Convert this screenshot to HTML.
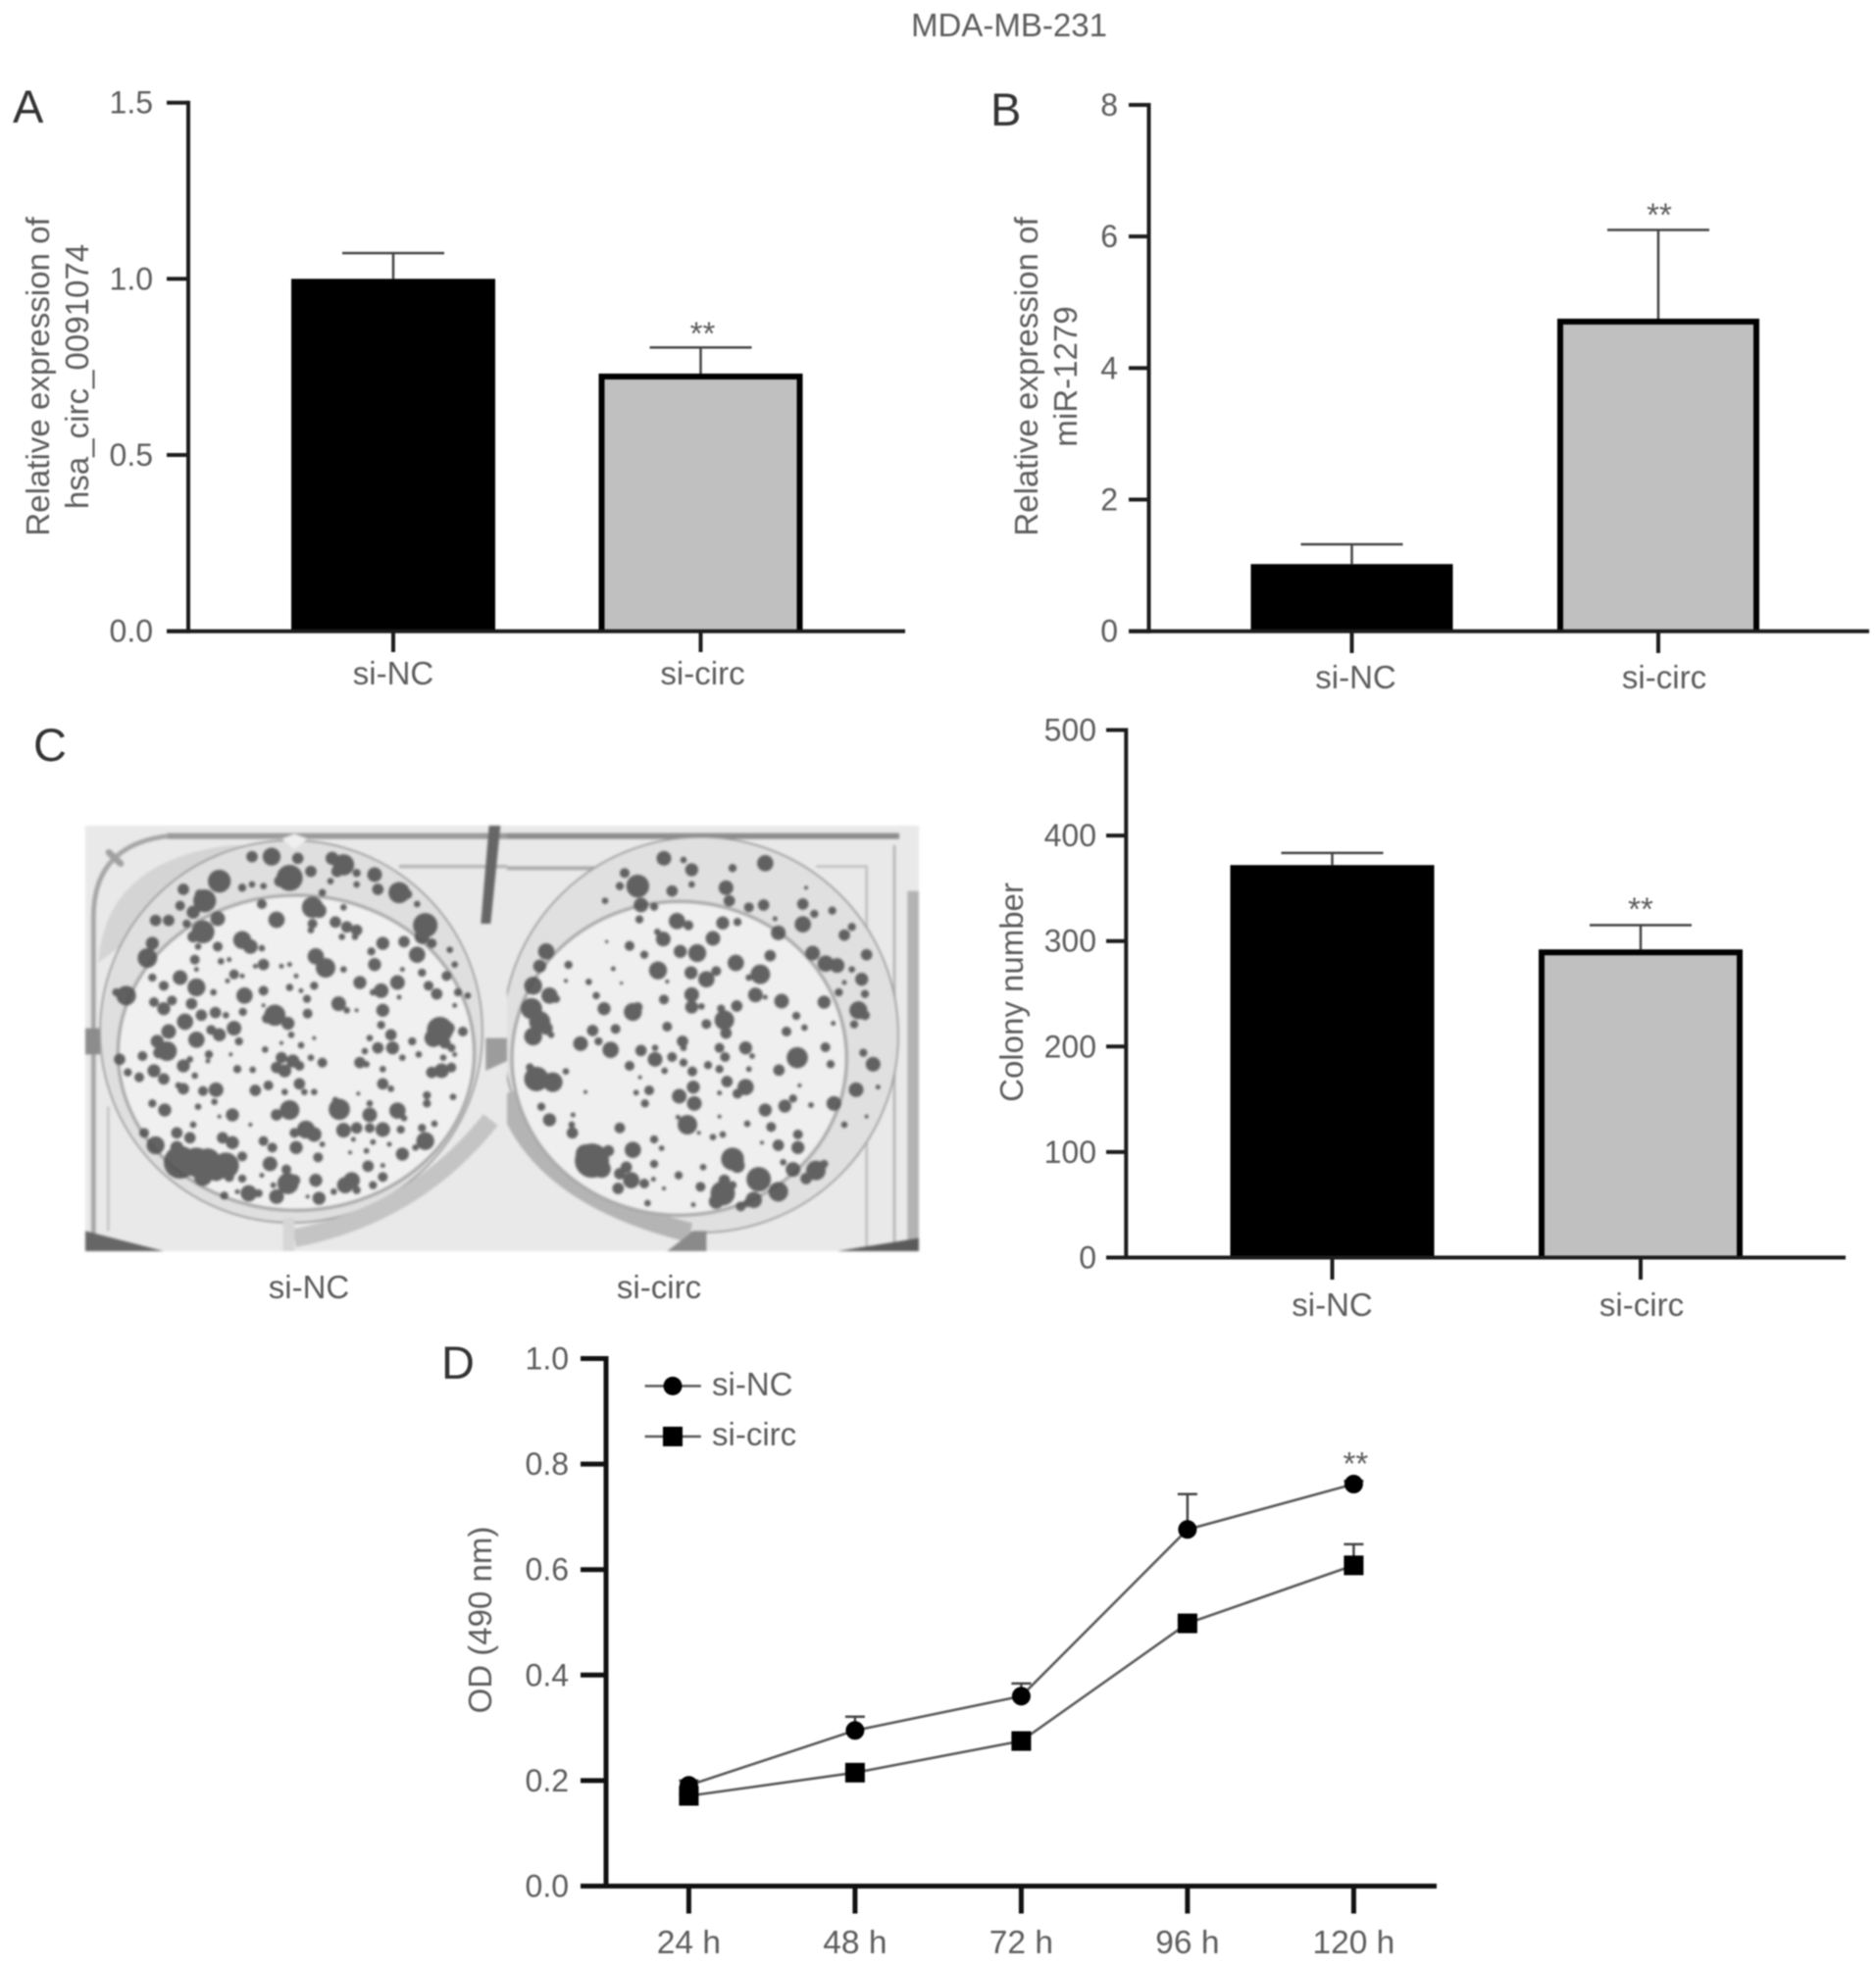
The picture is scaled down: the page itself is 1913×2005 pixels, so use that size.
<!DOCTYPE html>
<html lang="en">
<head>
<meta charset="utf-8">
<title>MDA-MB-231</title>
<style>
html,body{margin:0;padding:0;background:#fff;}
#figure{display:block;width:1913px;height:2005px;filter:blur(0.7px);}
text{font-family:"Liberation Sans",sans-serif;fill:#5c5c5c;}
.panel-letter{font-size:47px;fill:#333;}
</style>
</head>
<body>
<svg id="figure" xmlns="http://www.w3.org/2000/svg" width="1913" height="2005" viewBox="0 0 1913 2005">
  <defs>
    <clipPath id="plate-left-clip"><rect x="0" y="0" width="1290" height="1302"/></clipPath>
    <clipPath id="plate-right-clip"><rect x="30" y="0" width="1260" height="1302"/></clipPath>
  </defs>
  <rect width="1913" height="2005" fill="#fff"/>
  <text x="1029" y="37" font-size="33" text-anchor="middle">MDA-MB-231</text>
  <text class="panel-letter" x="13" y="125">A</text>
  <text class="panel-letter" x="1010" y="128">B</text>
  <text class="panel-letter" x="34" y="776">C</text>
  <text class="panel-letter" x="450" y="1406">D</text>

  <g id="panel-a"></g>
  <g id="panel-b"></g>
  <g id="panel-c"></g>
  <g id="panel-d"></g>

  <text transform="translate(50,384) rotate(-90)" font-size="33.1" text-anchor="middle">Relative expression of</text>
  <text transform="translate(90,384) rotate(-90)" font-size="33.1" text-anchor="middle">hsa_circ_0091074</text>
  <text transform="translate(1058,384) rotate(-90)" font-size="33.1" text-anchor="middle">Relative expression of</text>
  <text transform="translate(1098,384) rotate(-90)" font-size="33.1" text-anchor="middle">miR-1279</text>
  <text transform="translate(1043,1012) rotate(-90)" font-size="33" text-anchor="middle">Colony number</text>
  <text transform="translate(501,1652) rotate(-90)" font-size="33" text-anchor="middle">OD (490 nm)</text>

  <g style="filter:blur(1px)">
    <rect x="87" y="842" width="850" height="434" fill="#e9e9e9"/>

    <g transform="translate(507,842) scale(0.33333)" clip-path="url(#plate-right-clip)">
      <line x1="0" y1="32" x2="1230" y2="32" stroke="#8c8c8c" stroke-width="18"/>
      <line x1="0" y1="130" x2="330" y2="130" stroke="#ababab" stroke-width="12"/>
      <path d="M975 125H1130V1302" fill="none" stroke="#c0c0c0" stroke-width="8"/>
      <line x1="1215" y1="60" x2="1215" y2="1302" stroke="#b4b4b4" stroke-width="8"/>
      <rect x="1255" y="200" width="35" height="1102" fill="#b3b3b3"/>
      <polygon points="1040,1302 1290,1262 1290,1302" fill="#5a5a5a"/>
      <circle cx="622" cy="640" r="605" fill="#e0e0e0" stroke="#999" stroke-width="5"/>
      <path d="M25 820Q120 1130 590 1245" fill="none" stroke="#b4b4b4" stroke-width="60"/>
      <ellipse cx="557" cy="712" rx="512" ry="480" fill="#efefef" stroke="#aaa" stroke-width="10"/>
      <polygon points="520,1302 600,1240 640,1240 640,1302" fill="#8a8a8a"/>
      <path id="colony-dots-right" fill="#4e4e4e" fill-opacity="0.88"/>
    </g>

    <g transform="translate(87,842) scale(0.33333)" clip-path="url(#plate-left-clip)">
      <line x1="250" y1="32" x2="1290" y2="32" stroke="#9a9a9a" stroke-width="18"/>
      <line x1="960" y1="125" x2="1290" y2="125" stroke="#b5b5b5" stroke-width="10"/>
      <path d="M25 1302V280Q25 60 250 32" fill="none" stroke="#a5a5a5" stroke-width="14"/>
      <path d="M40 420Q60 110 440 60L600 60L200 300Z" fill="#d4d4d4"/>
      <line x1="70" y1="860" x2="70" y2="1240" stroke="#c4c4c4" stroke-width="8"/>
      <line x1="72" y1="82" x2="108" y2="116" stroke="#a0a0a0" stroke-width="20" stroke-linecap="round"/>
      <polygon points="1235,0 1270,0 1240,300 1210,300" fill="#666"/>
      <polygon points="0,1240 240,1302 0,1302" fill="#666"/>
      <rect x="0" y="620" width="45" height="80" fill="#8c8c8c"/>
      <polygon points="1225,650 1290,650 1290,720 1225,750" fill="#9c9c9c"/>
      <circle cx="630" cy="630" r="585" fill="#dfdfdf" stroke="#999" stroke-width="5"/>
      <path d="M1240 900Q1010 1190 640 1262" fill="none" stroke="#c4c4c4" stroke-width="56"/>
      <ellipse cx="645" cy="695" rx="545" ry="482" fill="#f0f0f0" stroke="#aaa" stroke-width="10"/>
      <rect x="605" y="1200" width="35" height="102" fill="#d6d6d6"/>
      <polygon points="600,40 640,25 680,40 640,72" fill="#efefef"/>
      <path id="colony-dots-left" fill="#4e4e4e" fill-opacity="0.88"/>
    </g>
  </g>
  <text x="315" y="1324" font-size="33" text-anchor="middle">si-NC</text>
  <text x="672" y="1324" font-size="33" text-anchor="middle">si-circ</text>
</svg>

<script>
// ---- Panel A data ----
const aCategories = ['si-NC', 'si-circ'];
const aValues = [1.0, 0.731];
const aErrorTops = [1.073, 0.805];
const aTicks = ['0.0', '0.5', '1.0', '1.5'];
const aStars = ['', '**'];

// ---- Panel B data ----
const bCategories = ['si-NC', 'si-circ'];
const bValues = [1.02, 4.75];
const bErrorTops = [1.32, 6.1];
const bTicks = ['0', '2', '4', '6', '8'];
const bStars = ['', '**'];

// ---- Panel C data ----
const cCategories = ['si-NC', 'si-circ'];
const cValues = [372, 292];
const cErrorTops = [383.5, 315];
const cTicks = ['0', '100', '200', '300', '400', '500'];
const cStars = ['', '**'];

// ---- Panel D data ----
const dTimes = ['24 h', '48 h', '72 h', '96 h', '120 h'];
const dTicks = ['0.0', '0.2', '0.4', '0.6', '0.8', '1.0'];
const dSiNC = [0.191, 0.295, 0.36, 0.676, 0.762];
const dSiCirc = [0.171, 0.215, 0.275, 0.498, 0.608];
const dSiNCErrorTops = [0.2, 0.321, 0.384, 0.743, 0.768];
const dSiCircErrorTops = [0.175, 0.222, 0.282, 0.505, 0.648];
const dStars = ['', '', '', '', '**'];

// ---- Colony spots (photo stand-in, not chart data) ----
const leftColonies = [
[570,95,22],[625,160,32],[595,170,14],[410,170,28],[365,230,28],[350,210,12],[300,195,14],[330,265,16],[290,245,12],[215,290,14],[255,290,14],[310,300,10],[405,285,18],[360,325,28],[330,340,14],[205,360,16],[190,405,24],[510,95,14],[650,100,14],[755,100,16],[790,120,26],[770,140,14],[830,145,10],[830,180,8],[750,170,8],[690,140,14],[885,150,18],[895,195,14],[960,205,26],[985,210,12],[1040,305,30],[1030,340,18],[1060,360,12],[1015,395,20],[1115,380,8],[1030,450,10],[1050,490,12],[1075,515,14],[1105,460,12],[1140,510,10],[1130,425,8],[975,355,14],[1015,240,8],[125,520,24],[205,465,10],[95,510,10],[1170,520,8],[1130,550,6],[510,180,8],[545,185,8],[480,190,10],[725,205,9],[540,240,12],
[695,250,26],[715,260,18],[790,250,8],[585,288,20],[695,300,12],[690,320,8],[765,295,14],[800,310,14],[830,320,14],[785,340,8],[825,340,8],[405,370,12],[480,350,22],[505,370,18],[540,375,8],[345,370,8],[910,360,16],[875,385,10],[885,425,16],[705,400,20],[735,435,24],[790,440,8],[545,425,14],[520,430,6],[600,430,6],[625,425,6],[415,415,8],[440,410,6],[335,410,12],[340,440,6],[290,465,18],[455,455,12],[480,460,6],[435,475,6],[240,490,12],[340,495,22],[645,460,6],[700,490,10],[625,495,9],[660,505,6],[840,480,16],[955,480,18],[970,440,6],[905,505,18],[880,510,8],[960,525,6],[545,505,12],[487,520,20],[392,510,8],[678,530,10],[210,540,12],[265,535,12],[240,560,16],[325,545,14],[775,545,18],[800,565,8],[830,565,5],[355,580,14],[398,572,14],[430,580,8],[482,570,10],[545,550,5],[580,580,26],[555,590,12],[620,605,16],[630,640,8],[680,575,12],[910,565,16],[305,600,20],[255,630,18],[455,620,18],[385,625,12],[410,640,16],[340,655,20],[470,660,10],[220,660,16],[905,610,10],[935,640,14],[940,680,16],[870,650,8],[895,680,14],[855,690,8],[1000,660,10],[250,690,24],[225,695,14],[175,705,12],[300,735,16],[320,715,8],[378,700,10],[375,720,6],[445,700,5],[550,685,8],[600,665,5],[660,672,8],[700,650,5],[600,710,14],[635,720,16],[585,740,14],[610,750,16],[655,735,12],[725,725,12],[690,710,8],[840,725,14],[860,730,8],[910,745,8],[970,710,8],[1020,700,8],
[105,715,14],[130,755,10],[165,770,12],[210,750,16],[240,775,14],[335,765,8],[465,745,10],[512,747,8],[400,808,18],[360,812,12],[300,805,14],[285,795,8],[395,845,8],[520,810,14],[560,795,12],[610,815,8],[655,790,14],[670,815,8],[700,815,8],[910,790,14],[935,805,8],[835,820,5],[1045,825,10],[1045,850,10],[1125,830,8],
[1085,625,32],[1065,650,22],[1110,620,16],[1100,665,14],[1155,630,12],[1120,680,10],[1090,750,18],[1060,755,14],[1120,740,12],[1095,710,8],[1130,700,6],
[205,850,10],[243,870,16],[345,860,8],[450,885,16],[410,890,5],[625,870,24],[585,885,14],[777,868,26],[765,840,8],[870,885,18],[870,850,8],[955,872,20],[975,895,8],[330,915,8],[505,915,5],[675,930,22],[700,945,18],[640,940,12],[790,932,18],[830,925,14],[870,925,12],[910,930,18],[965,930,10],[1030,925,10],[1068,912,8],[180,940,12],[215,978,22],[280,940,14],[320,955,14],[420,955,14],[450,970,16],[545,965,12],[572,985,12],[645,985,16],[725,975,7],[820,960,6],[880,968,7],[930,975,6],[1040,965,22],[1010,985,8],[970,1005,16],[860,995,7],[810,1000,5],[480,1012,12],[565,1035,18],[712,1015,12],[865,1042,14],[910,1040,6],[280,985,16],[290,1030,40],[340,1030,36],[375,1025,30],[430,1040,32],[400,1060,22],[360,1075,22],[270,1035,20],[440,1075,12],[480,1080,10],[540,1070,6],[615,1052,12],[705,1085,16],[620,1095,26],[640,1085,14],[795,1100,20],[815,1085,20],[830,1115,10],[910,1075,12],[880,1100,10],[575,1100,7],[500,1125,20],[530,1125,10],[425,1132,10],[585,1135,18],[715,1140,16],[680,1135,5],[465,1120,6],[760,1120,8]
];
const rightColonies = [
[510,100,18],[390,145,12],[430,185,28],[375,185,10],[535,200,14],[595,135,16],[570,105,8],[595,180,8],[700,190,18],[710,230,14],[720,130,10],[820,115,20],[815,243,14],[935,240,14],[970,270,10],[1025,260,10],[935,302,20],[860,328,18],[1085,310,10],[1062,335,14],[1130,395,14],[965,390,18],[1005,422,20],[1040,428,18],[1085,440,8],[1115,470,16],[1125,515,10],[1062,480,6],[1045,510,10],[1000,540,16],[1105,565,22],[1125,580,12],[1092,608,10],[1028,605,6],[1120,695,10],[1150,730,18],[1098,808,18],[1165,800,6],[1030,850,18],[1062,915,8],[1020,730,10],[1004,678,12],[330,230,8],[440,243,18],[480,248,10],[770,250,12],[850,285,6],[945,190,5],[1130,890,5],
[150,385,20],[130,430,16],[110,490,22],[160,520,20],[180,530,10],[105,560,26],[130,600,26],[150,620,16],[110,645,22],[165,640,8],[120,775,30],[170,785,24],[150,770,10],[100,740,10],[135,860,10],[160,900,16],[230,940,14],[232,885,6],[228,915,8],[210,752,8],
[435,287,10],[550,292,20],[585,305,12],[690,298,16],[735,295,10],[660,345,18],[490,325,8],[508,347,18],[335,355,4],[405,368,12],[450,395,10],[560,385,16],[612,390,22],[730,420,20],[835,398,14],[593,450,16],[492,443,22],[640,470,20],[670,445,12],[805,455,24],[770,465,8],[218,426,10],[355,438,6],[280,478,8],[210,475,5],[380,482,4],[520,477,5],[595,517,18],[510,532,12],[790,518,18],[820,525,6],[870,537,18],[303,520,9],[327,560,16],[415,570,22],[430,555,12],[595,555,16],[625,553,8],[685,560,10],[733,552,14],[695,595,24],[640,607,12],[520,615,12],[915,582,10],[940,618,8],[700,635,14],[362,622,12],[292,627,14],[885,630,12],[255,667,18],[310,660,10],[347,686,20],[440,688,14],[567,660,14],[570,680,8],[680,680,12],[760,680,16],[780,705,7],[483,715,18],[483,680,8],[535,708,12],[697,708,12],[570,725,10],[645,733,10],[680,745,10],[918,710,26],[405,735,12],[512,750,8],[597,752,12],[770,745,7],[862,748,14],[437,770,5],[703,783,14],[600,800,16],[760,800,20],[735,820,12],[465,810,12],[425,817,7],[925,795,5],[270,815,5],[557,828,18],[603,850,18],[452,850,10],[680,818,6],[905,835,10],[960,855,7],[820,870,16],[880,858,16],[375,925,13],[553,892,6],[582,915,24],[680,890,5],[765,912,8],[838,922,12],[920,945,12],[660,953,8],[690,945,8],[617,940,5],[480,960,10],[503,987,7],[415,992,20],[340,995,14],[860,978,14],[920,985,16],[810,970,5],[720,1020,28],[735,1040,18],[480,1035,10],[630,1045,8],[875,1030,8],[905,1052,18],[555,1070,10],[290,1025,42],[270,1005,24],[320,1050,22],[395,1045,14],[375,1065,14],[410,1085,20],[450,1095,12],[478,1082,6],[695,1085,14],[800,1082,30],[975,1055,24],[945,1080,14],[1000,1035,10],[860,1120,24],[622,1105,12],[690,1125,30],[670,1150,18],[720,1100,10],[785,1145,20],[745,1165,12],[765,1155,10],[370,1110,14],[460,1155,8],[510,1110,5],[600,1160,6]
];

const NS = 'http://www.w3.org/2000/svg';

function make(parent, tag, attrs, name, content) {
  const el = document.createElementNS(NS, tag);
  for (const k in attrs) el.setAttribute(k, attrs[k]);
  
  
  if (content !== undefined) el.textContent = content;
  parent.appendChild(el);
  return el;
}

function line(parent, x1, y1, x2, y2, color, width, name) {
  return make(parent, 'line', {x1: x1, y1: y1, x2: x2, y2: y2, stroke: color, 'stroke-width': width}, name);
}

function drawBarPanel(opt) {
  const g = document.getElementById(opt.id);
  const y = v => opt.y0 - (v / opt.max) * (opt.y0 - opt.yTop);
  const x = i => opt.x0 + i * opt.step;

  opt.values.forEach((v, i) => {
    const top = y(v), cx = x(i), hw = opt.halfBar;
    if (i === 0) {
      make(g, 'rect', {x: cx - hw, y: top, width: hw * 2, height: opt.y0 - top, fill: '#000'}, 'bar-' + opt.categories[i]);
    } else {
      const l = cx - hw + 3, r = cx + hw - 3, t = top + 3;
      make(g, 'path', {d: 'M' + l + ' ' + opt.y0 + 'V' + t + 'H' + r + 'V' + opt.y0, fill: '#c0c0c0', stroke: '#000', 'stroke-width': 6}, 'bar-' + opt.categories[i]);
    }
    const et = y(opt.errors[i]);
    line(g, cx, top, cx, et, '#444', 2.5, 'error-stem-' + opt.categories[i]);
    line(g, cx - 52, et, cx + 52, et, '#444', 2.5, 'error-cap-' + opt.categories[i]);
    if (opt.stars[i]) {
      make(g, 'text', {x: cx + opt.starDx, y: et + opt.starOffset, 'font-size': 33, 'text-anchor': 'middle'}, 'significance-stars', opt.stars[i]);
    }
    line(g, cx, opt.y0, cx, opt.tickBottom, '#1c1c1c', 4, 'x-tick-' + opt.categories[i]);
    make(g, 'text', {x: cx + opt.labelDx[i], y: opt.labelY, 'font-size': 33, 'text-anchor': 'middle'}, 'x-label-' + opt.categories[i], opt.categories[i]);
  });

  line(g, opt.axisX, opt.yTop - 2, opt.axisX, opt.y0 + 2, '#1c1c1c', 4, 'y-axis');
  line(g, opt.tickLeft, opt.y0, opt.axisRight, opt.y0, '#1c1c1c', 4, 'x-axis');
  opt.ticks.forEach(t => {
    const ty = y(parseFloat(t));
    line(g, opt.tickLeft, ty, opt.axisX, ty, '#1c1c1c', 4, 'y-tick-' + t);
    make(g, 'text', {x: opt.labelRight, y: ty + 11, 'font-size': 32, 'text-anchor': 'end'}, 'y-tick-label-' + t, t);
  });
}

drawBarPanel({
  id: 'panel-a', categories: aCategories, values: aValues, errors: aErrorTops, ticks: aTicks, stars: aStars,
  max: 1.5, y0: 643.7, yTop: 104.7, x0: 401, step: 313.5, halfBar: 104,
  axisX: 192, tickLeft: 170, axisRight: 923, tickBottom: 665, labelRight: 156, labelY: 698,
  labelDx: [0, 2], starOffset: -3, starDx: 2
});

drawBarPanel({
  id: 'panel-b', categories: bCategories, values: bValues, errors: bErrorTops, ticks: bTicks, stars: bStars,
  max: 8, y0: 643.7, yTop: 107, x0: 1378.5, step: 312.5, halfBar: 103,
  axisX: 1171.5, tickLeft: 1151, axisRight: 1906, tickBottom: 666, labelRight: 1140, labelY: 702,
  labelDx: [4, 6], starOffset: -4, starDx: 1
});

drawBarPanel({
  id: 'panel-c', categories: cCategories, values: cValues, errors: cErrorTops, ticks: cTicks, stars: cStars,
  max: 500, y0: 1282.5, yTop: 744.5, x0: 1358.5, step: 314.5, halfBar: 104,
  axisX: 1148.3, tickLeft: 1128, axisRight: 1882, tickBottom: 1305, labelRight: 1118, labelY: 1342,
  labelDx: [0, 1], starOffset: -5, starDx: 0
});

(function drawLinePanel() {
  const g = document.getElementById('panel-d');
  const y0 = 1923.5, yTop = 1385.5;
  const y = v => y0 - v * (y0 - yTop);
  const x = i => 702.4 + i * 169.5;
  const axisX = 618;

  function drawErrors(errs, vals, name) {
    errs.forEach((e, i) => {
      if (e <= vals[i]) return;
      line(g, x(i), y(vals[i]), x(i), y(e), '#444', 2.5, name + '-error-stem-' + dTimes[i]);
      line(g, x(i) - 10, y(e), x(i) + 10, y(e), '#444', 2.5, name + '-error-cap-' + dTimes[i]);
    });
  }
  function polyline(vals, name) {
    make(g, 'polyline', {points: vals.map((v, i) => x(i) + ',' + y(v)).join(' '), fill: 'none', stroke: '#5a5a5a', 'stroke-width': 2.6}, name);
  }

  drawErrors(dSiNCErrorTops, dSiNC, 'si-nc');
  drawErrors(dSiCircErrorTops, dSiCirc, 'si-circ');
  polyline(dSiNC, 'si-nc-line');
  polyline(dSiCirc, 'si-circ-line');
  dSiNC.forEach((v, i) => {
    make(g, 'circle', {cx: x(i), cy: y(v), r: 9.5, fill: '#000'}, 'si-nc-point-' + dTimes[i]);
  });
  dSiCirc.forEach((v, i) => {
    make(g, 'rect', {x: x(i) - 10, y: y(v) - 10, width: 20, height: 20, fill: '#000'}, 'si-circ-point-' + dTimes[i]);
  });
  dStars.forEach((s, i) => {
    if (s) make(g, 'text', {x: x(i) + 2, y: 1504, 'font-size': 33, 'text-anchor': 'middle'}, 'significance-stars', s);
  });

  line(g, axisX, yTop - 2.5, axisX, y0 + 2.5, '#111', 5, 'y-axis');
  line(g, 592, y0, 1465, y0, '#111', 5, 'x-axis');
  dTicks.forEach(t => {
    const ty = y(parseFloat(t));
    line(g, 592, ty, axisX, ty, '#111', 5, 'y-tick-' + t);
    make(g, 'text', {x: 580, y: ty + 11, 'font-size': 32, 'text-anchor': 'end'}, 'y-tick-label-' + t, t);
  });
  dTimes.forEach((t, i) => {
    line(g, x(i), y0, x(i), 1951.5, '#111', 5, 'x-tick-' + t);
    make(g, 'text', {x: x(i), y: 1992, 'font-size': 33.5, 'text-anchor': 'middle'}, 'x-label-' + t, t);
  });

  // legend
  line(g, 657.6, 1413.5, 714.8, 1413.5, '#5a5a5a', 2.6, 'legend-line-si-nc');
  make(g, 'circle', {cx: 686, cy: 1413.5, r: 9.5, fill: '#000'}, 'legend-marker-si-nc');
  make(g, 'text', {x: 726, y: 1423, 'font-size': 33}, 'legend-label-si-nc', 'si-NC');
  line(g, 657.6, 1465, 714.8, 1465, '#5a5a5a', 2.6, 'legend-line-si-circ');
  make(g, 'rect', {x: 676, y: 1455, width: 20, height: 20, fill: '#000'}, 'legend-marker-si-circ');
  make(g, 'text', {x: 726, y: 1474, 'font-size': 33}, 'legend-label-si-circ', 'si-circ');
})();

function dotsPath(list) {
  return list.map(c => {
    const cx = c[0], cy = c[1], r = c[2] * 1.25;
    return 'M' + (cx - r) + ' ' + cy + 'a' + r + ' ' + r + ' 0 1 0 ' + (2 * r) + ' 0a' + r + ' ' + r + ' 0 1 0 ' + (-2 * r) + ' 0Z';
  }).join('');
}
document.getElementById('colony-dots-left').setAttribute('d', dotsPath(leftColonies));
document.getElementById('colony-dots-right').setAttribute('d', dotsPath(rightColonies));
</script>
</body>
</html>
